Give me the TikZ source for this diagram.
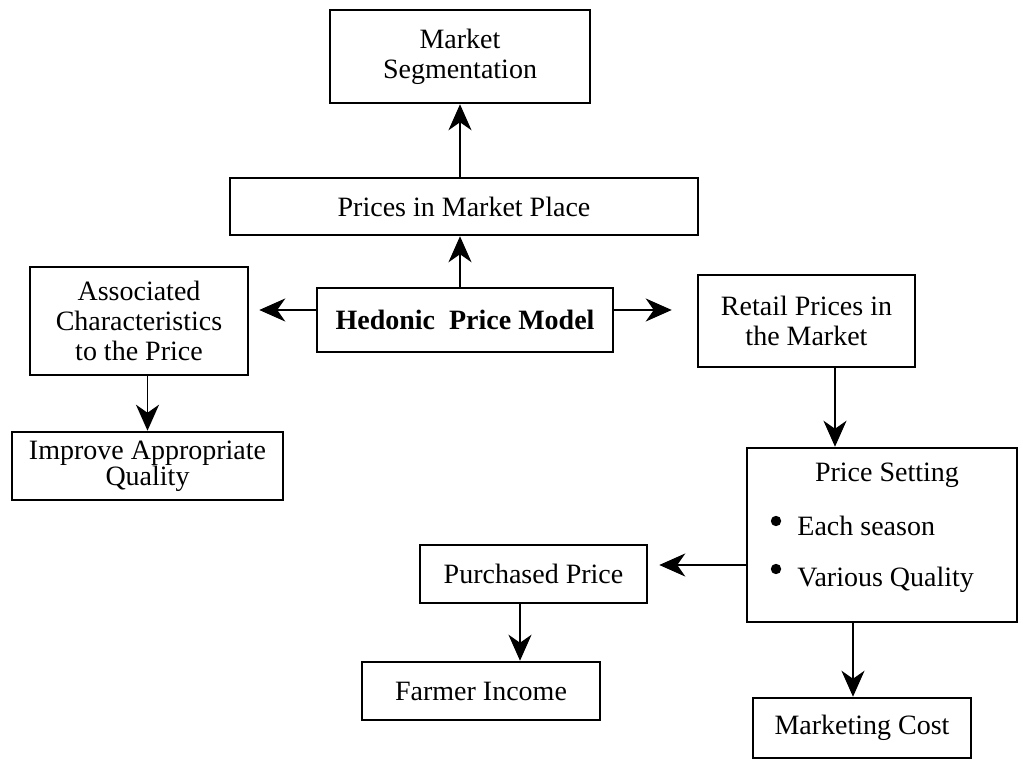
\documentclass[tikz,border=0pt]{standalone}
\usepackage{fontspec}
\setmainfont{Liberation Serif}
\usetikzlibrary{arrows.meta,calc}
\begin{document}
\begin{tikzpicture}[x=0.5pt,y=-0.5pt,
  box/.style={draw, line width=1.25pt, inner sep=0pt, align=center,
    font=\fontsize{14}{15}\selectfont},
  txt/.style={inner sep=0pt, font=\fontsize{14}{15}\selectfont},
  arr/.style={-{Stealth[length=13pt,width=11.5pt,inset=4pt]}, line width=0.9pt}]
\useasboundingbox (0,0) rectangle (1023,764);

% boxes
\node[box, minimum width=130pt, minimum height=46.5pt] (ms) at (460,56.5) {Market\\Segmentation};
\node[box, minimum width=234pt, minimum height=28.5pt] (pm) at (464,206.5) {Prices in Market Place};
\node[box, minimum width=148pt, minimum height=32pt] (hp) at (465,320) {\textbf{Hedonic\ \ Price Model}};
\node[box, minimum width=109pt, minimum height=54pt] (ac) at (139,321) {Associated\\Characteristics\\to the Price};
\node[box, minimum width=108.5pt, minimum height=46pt] (rp) at (806.5,321) {Retail Prices in\\the Market};
\node[box, minimum width=135.5pt, minimum height=34pt, font=\fontsize{14}{13}\selectfont] (iq) at (147.5,466) {Improve Appropriate\\Quality};
\node[box, minimum width=135pt, minimum height=87pt] (ps) at (882,535) {};
\node[box, minimum width=113.5pt, minimum height=29pt] (pp) at (533.5,574) {Purchased Price};
\node[box, minimum width=119pt, minimum height=29pt] (fi) at (481,691) {Farmer Income};
\node[box, minimum width=109pt, minimum height=30pt] (mc) at (862,728) {Marketing Cost};

% contents of Price Setting
\node[txt, anchor=base] (pst) at (887,482) {Price Setting};
\fill (776,521) circle[radius=2.6pt];
\fill (776,569) circle[radius=2.6pt];
\node[txt, anchor=base west] (es) at (797,536) {Each season};
\node[txt, anchor=base west] (vq) at (797,587) {Various Quality};

% helper coordinates
\coordinate (ly) at (0,310);
\coordinate (rx) at (835,0);
\coordinate (py) at (0,565);
\coordinate (px) at (520,0);
\coordinate (mx) at (853,0);

% connectors
\draw[arr] (pm.north -| ms.south) -- (ms.south);
\draw[arr] (hp.north -| ms.south) -- (pm.south -| ms.south);
\draw[arr, shorten >=5pt] (hp.west |- ly) -- (ac.east |- ly);
\draw[arr, shorten >=12.5pt] (hp.east |- ly) -- (rp.west |- ly);
\draw[arr] (ac.south -| iq.north) -- (iq.north);
\draw[arr] (rp.south -| rx) -- (ps.north -| rx);
\draw[arr, shorten >=5.5pt] (ps.west |- py) -- (pp.east |- py);
\draw[arr] (pp.south -| px) -- (fi.north -| px);
\draw[arr] (ps.south -| mx) -- (mc.north -| mx);
\end{tikzpicture}
\end{document}
